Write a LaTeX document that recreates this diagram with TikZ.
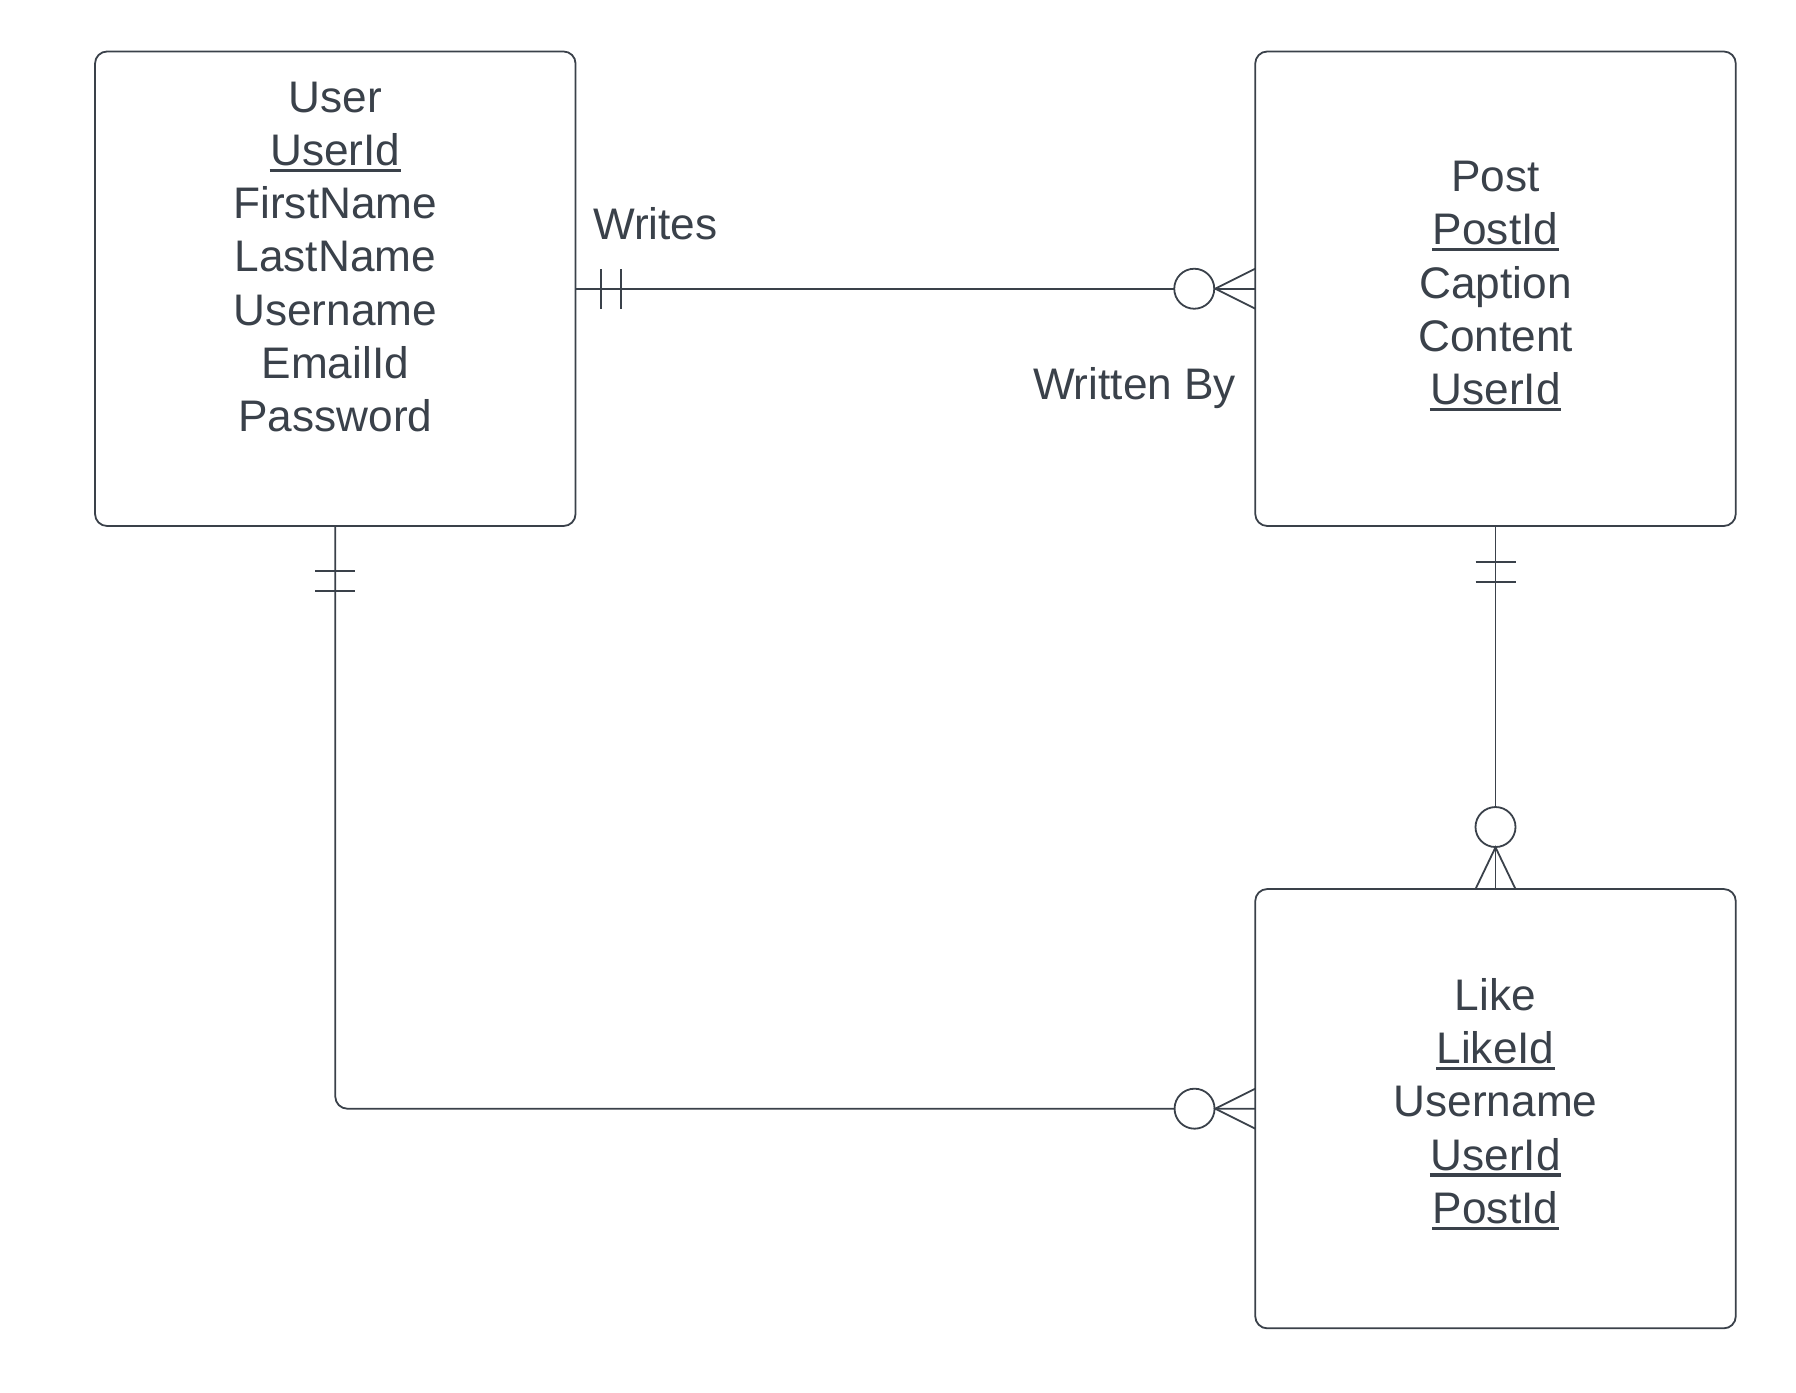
\documentclass[tikz,border=0pt]{standalone}
\usepackage{fontspec}
\setmainfont{Liberation Sans}
\usepackage{tikz}
\usetikzlibrary{positioning,calc}
\definecolor{erline}{HTML}{3A414A}
\newsavebox{\keybox}
\newcommand{\pkey}[1]{\sbox{\keybox}{#1}\rlap{\kern-0.5pt\rule[-6.5pt]{\dimexpr\wd\keybox+1pt\relax}{3.3pt}}\usebox{\keybox}}

\begin{document}
\begin{tikzpicture}[
  x=1pt, y=1pt,
  font=\fontsize{44.2pt}{53.3pt}\selectfont,
  entity/.style={draw=erline, line width=1.8pt, rounded corners=12pt, minimum width=480.5pt, inner sep=0pt, outer sep=0pt},
  attrs/.style={text=erline, align=center, inner sep=0pt, anchor=north},
  conn/.style={draw=erline, line width=1.8pt},
  lbl/.style={text=erline, inner sep=0pt}
]
\useasboundingbox (0,0) rectangle (1796,1392);
% entities
\node[entity, minimum height=474.5pt] (user) at (335.3,1103.25) {};
\node[entity, minimum height=474.5pt] (post) at (1495.5,1103.25) {};
\node[entity, minimum height=439.3pt] (like) at (1495.5,283.3) {};
\node[attrs] (usertxt) at ([yshift=-30pt]user.north) {User\\\pkey{UserId}\\FirstName\\LastName\\Username\\EmailId\\Password};
\node[attrs] (posttxt) at ([yshift=-109.5pt]post.north) {Post\\\pkey{PostId}\\Caption\\Content\\\pkey{UserId}};
\node[attrs] (liketxt) at ([yshift=-89pt]like.north) {Like\\\pkey{LikeId}\\Username\\\pkey{UserId}\\\pkey{PostId}};
% relationships
\draw[conn] (user.east) -- (post.west);
\draw[conn, rounded corners=12pt] (user.south) |- (like.west);
\draw[conn] (post.south) -- (like.north);
\node[lbl, anchor=base west] (writes) at ([xshift=17.4pt, yshift=48.75pt]user.east) {Writes};
\node[lbl, anchor=base east] (writtenby) at ([xshift=-19pt, yshift=-111.25pt]post.west) {Written By};
% user side: exactly one
\draw[conn] ([xshift=25.6pt]user.east) ++(0,-20) -- ++(0,40);
\draw[conn] ([xshift=45.3pt]user.east) ++(0,-20) -- ++(0,40);
\draw[conn] ([yshift=-45.3pt]user.south) ++(-20,0) -- ++(40,0);
\draw[conn] ([yshift=-65.3pt]user.south) ++(-20,0) -- ++(40,0);
% post side: exactly one
\draw[conn] ([yshift=-35.7pt]post.south) ++(-20,0) -- ++(40,0);
\draw[conn] ([yshift=-55.7pt]post.south) ++(-20,0) -- ++(40,0);
% zero or many
\draw[conn, fill=white] ([xshift=-61pt]post.west) circle (20);
\draw[conn] (post.west) ++(0,20) -- ++(-40,-20) -- ++(40,-20);
\draw[conn, fill=white] ([xshift=-60.7pt]like.west) circle (20);
\draw[conn] (like.west) ++(0,20) -- ++(-40,-20) -- ++(40,-20);
\draw[conn, fill=white] ([yshift=62pt]like.north) circle (20);
\draw[conn] (like.north) ++(-20,0) -- ++(20,41.7) -- ++(20,-41.7);
\end{tikzpicture}
\end{document}
